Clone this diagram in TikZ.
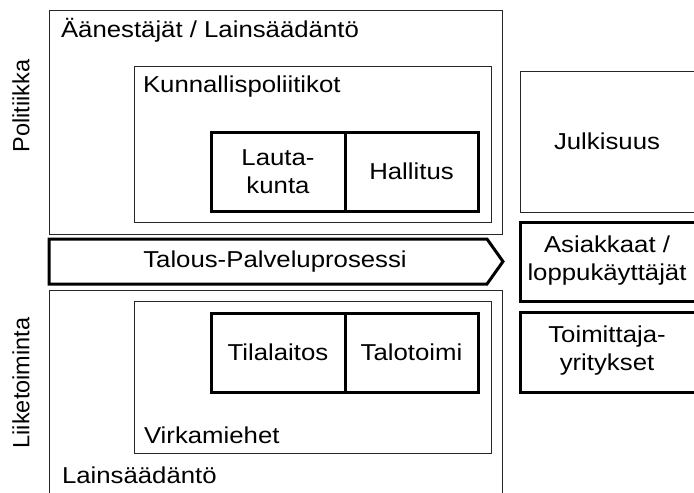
\documentclass[tikz,border=0pt]{standalone}
\usepackage{fontspec}
\setmainfont{Liberation Sans}[FakeStretch=1.12]
\newfontfamily\sidefont{Liberation Sans}
\usetikzlibrary{positioning}
\begin{document}
\begin{tikzpicture}[x=1pt,y=-1pt,
  every node/.style={font=\fontsize{23pt}{28pt}\selectfont, inner sep=0pt, outer sep=0pt},
  thinbox/.style={draw=black!85, line width=1pt},
  thickbox/.style={draw=black, line width=3pt},
  cell/.style={thickbox, align=center, minimum width=134pt, minimum height=79pt},
  label/.style={anchor=base west},
  side/.style={rotate=90, font=\sidefont\fontsize{23.5pt}{28pt}\selectfont}
]
\useasboundingbox (0,0) rectangle (694,493);
\begin{scope}
\clip (0,0) rectangle (694,493);

% Political side: outer frame and councillors' frame
\node[thinbox, minimum width=453pt, minimum height=224pt] (vote) at (275.5,122) {};
\node[thinbox, minimum width=357pt, minimum height=156pt] (kunn) at (312.5,144) {};
\node[label] (votet) at (61,37) {Äänestäjät / Lainsäädäntö};
\node[label] (kunnt) at (143,92) {Kunnallispoliitikot};
\node[cell] (lauta) at (278,171.5) {Lauta-\\kunta};
\node[cell, minimum width=133pt] (hall) at (411.5,171.5) {Hallitus};

% Process arrow
\coordinate (pa) at (49,239);
\coordinate (pb) at (487,239);
\coordinate (pc) at (503,261.5);
\coordinate (pd) at (487,284);
\coordinate (pe) at (49,284);
\draw[line width=3pt, line join=miter] (pa) -- (pb) -- (pc) -- (pd) -- (pe) -- cycle;
\node (proc) at (275,262) {Talous-Palveluprosessi};

% Business side: open-bottom frame and officials' frame
\coordinate (la) at (49,500);
\coordinate (lb) at (49,290);
\coordinate (lc) at (502,290);
\coordinate (ld) at (502,500);
\draw[draw=black!85, line width=1pt] (la) -- (lb) -- (lc) -- (ld);
\node[thinbox, minimum width=357pt, minimum height=152pt] (virk) at (312.5,377) {};
\node[label] (virkt) at (144,443) {Virkamiehet};
\node[label] (lakit) at (62,483) {Lainsäädäntö};
\node[cell] (tila) at (278,352.5) {Tilalaitos};
\node[cell, minimum width=133pt] (talo) at (411.5,352.5) {Talotoimi};

% Side labels
\node[side] (pol) at (21,106) {Politiikka};
\node[side] (liike) at (21,383) {Liiketoiminta};

% Right column
\node[thinbox, minimum width=190pt, minimum height=141pt] (julk) at (615,141.5) {};
\node (julkt) at (607,141) {Julkisuus};
\node[thickbox, minimum width=190pt, minimum height=79pt] (asiak) at (615,261.5) {};
\node[align=center] (asiakt) at (607,261) {Asiakkaat /\\loppukäyttäjät};
\node[thickbox, minimum width=190pt, minimum height=80pt] (toim) at (615,352) {};
\node[align=center] (toimt) at (607,351) {Toimittaja-\\yritykset};
\end{scope}
\end{tikzpicture}
\end{document}
